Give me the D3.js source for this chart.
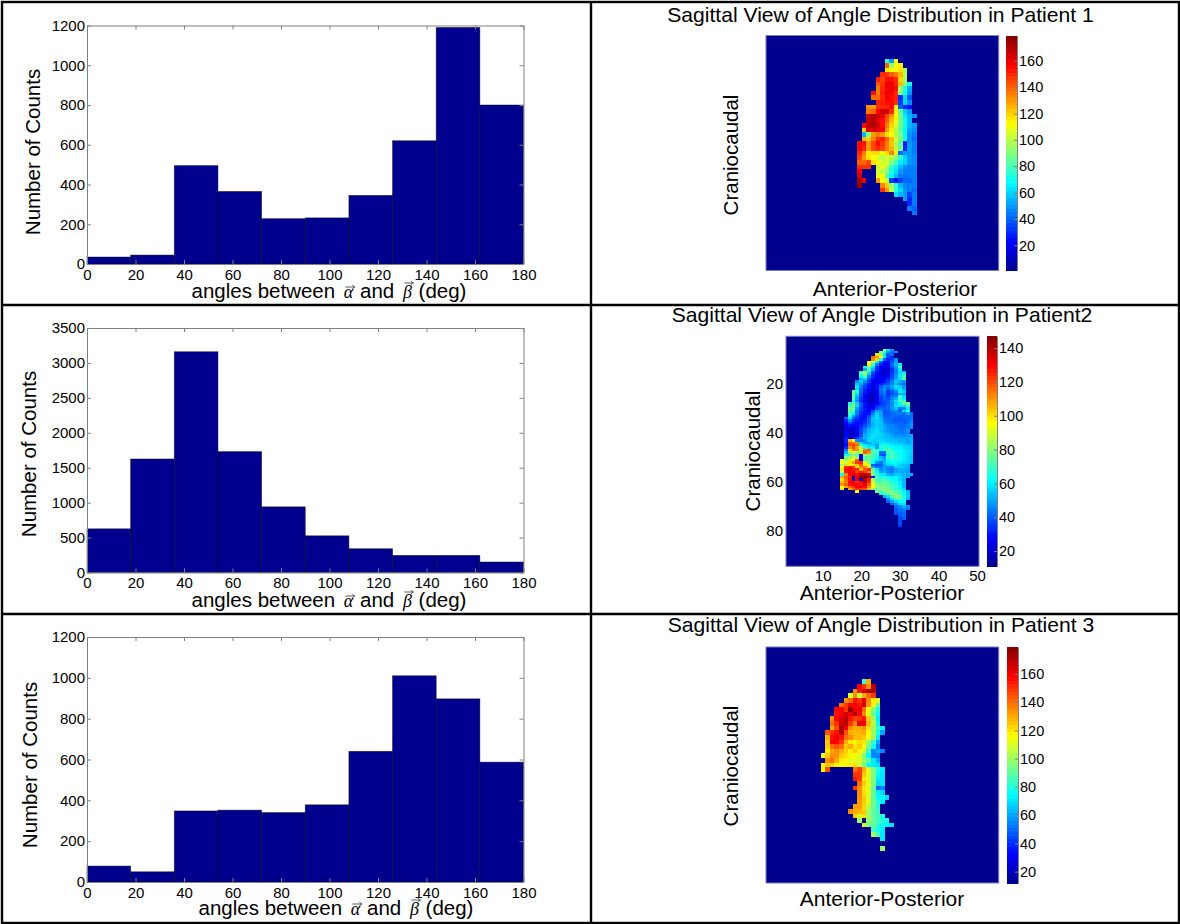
<!DOCTYPE html>
<html>
<head>
  <meta charset="utf-8">
  <style>
body { margin: 0; background: #fff; }
svg { display: block; font-family: "Liberation Sans", sans-serif; }
.axis path, .axis line { stroke: #808080; }
.axis text { fill: #000; font-size: 15px; }
.cbar text { font-size: 14.5px; }
  </style>
</head>
<body>
<svg id="chart" width="1180" height="924"></svg>
<script src="https://cdn.jsdelivr.net/npm/d3@7"></script>
<script>
// Histogram bin edges and counts
var binEdges = [0, 18, 36, 54, 72, 90, 108, 126, 144, 162, 180];
var countsPatient1 = [35, 45, 495, 365, 228, 232, 345, 620, 1190, 800];
var countsPatient2 = [625, 1625, 3160, 1730, 940, 525, 340, 245, 245, 150];
var countsPatient3 = [78, 50, 348, 352, 340, 378, 640, 1010, 897, 587];
var angleTicks = [0, 20, 40, 60, 80, 100, 120, 140, 160, 180];
var countTicks1200 = [0, 200, 400, 600, 800, 1000, 1200];
var countTicks3500 = [0, 500, 1000, 1500, 2000, 2500, 3000, 3500];

// Heat map rows: [row, first column, cell values...]; 0 is outside the lung
var heatPatient1 = [
  [5, 26, 75, 50, 110],
  [6, 26, 140, 95, 112, 115],
  [7, 26, 115, 112, 110, 118, 95],
  [8, 25, 150, 148, 140, 135, 125, 100],
  [9, 24, 152, 145, 155, 155, 150, 120, 95],
  [10, 24, 140, 148, 160, 160, 150, 125, 90, 70],
  [11, 24, 135, 150, 158, 160, 155, 95, 72, 52],
  [12, 23, 155, 135, 152, 160, 158, 150, 90, 68, 50],
  [13, 23, 138, 138, 150, 158, 155, 150, 30, 62, 38],
  [14, 24, 150, 152, 155, 155, 150, 35, 60, 48],
  [15, 22, 132, 130, 148, 150, 150, 155, 112, 40, 30, 25],
  [16, 22, 135, 140, 158, 165, 165, 150, 115, 85, 60, 50],
  [17, 22, 165, 170, 165, 160, 145, 130, 112, 90, 65, 55, 48],
  [18, 22, 168, 170, 160, 155, 140, 125, 108, 90, 68, 55],
  [19, 21, 155, 168, 170, 165, 155, 135, 120, 105, 88, 70, 55, 50],
  [20, 21, 120, 162, 162, 160, 158, 130, 115, 100, 85, 68, 52, 48],
  [21, 21, 55, 90, 130, 135, 130, 118, 112, 100, 88, 68, 48, 45],
  [22, 21, 125, 120, 135, 150, 152, 140, 125, 105, 90, 70, 48, 42],
  [23, 20, 155, 155, 130, 145, 155, 148, 135, 122, 98, 85, 28, 50, 45],
  [24, 20, 155, 150, 130, 145, 150, 145, 135, 125, 100, 88, 30, 50, 45],
  [25, 20, 150, 135, 115, 118, 118, 112, 118, 135, 115, 42, 50, 50, 45],
  [26, 20, 145, 130, 118, 112, 105, 100, 105, 100, 90, 75, 60, 50, 48],
  [27, 20, 140, 138, 145, 118, 110, 105, 105, 90, 80, 65, 60, 50, 48],
  [28, 20, 150, 148, 148, 0, 105, 108, 100, 75, 65, 55, 48, 45, 45],
  [29, 20, 158, 0, 0, 0, 105, 100, 90, 72, 62, 50, 45, 45, 45],
  [30, 20, 165, 0, 0, 0, 108, 112, 82, 68, 55, 45, 42, 45, 45],
  [31, 20, 172, 160, 0, 0, 130, 112, 100, 35, 25, 35, 42, 42, 45],
  [32, 20, 175, 0, 0, 0, 0, 135, 122, 95, 75, 55, 48, 45, 45],
  [33, 25, 148, 130, 100, 75, 62, 50, 45, 42],
  [34, 28, 62, 55, 50, 35, 45],
  [35, 30, 52, 30, 45],
  [36, 31, 30, 45],
  [37, 31, 45, 40],
  [38, 32, 45]
];

var heatPatient2 = [
  [5, 25, 80, 58, 48],
  [6, 24, 78, 70, 48, 42, 46],
  [7, 23, 100, 85, 58, 40, 42],
  [8, 22, 115, 110, 92, 60, 38, 34],
  [9, 22, 112, 100, 68, 40, 32, 36, 46],
  [10, 21, 96, 88, 60, 40, 29, 28, 40, 50],
  [11, 21, 92, 68, 44, 32, 26, 28, 42, 52, 60],
  [12, 20, 62, 80, 58, 36, 28, 22, 25, 38, 48, 70],
  [13, 20, 52, 75, 52, 34, 26, 20, 22, 34, 46, 60],
  [14, 19, 70, 85, 60, 40, 30, 22, 20, 22, 34, 44, 56, 55],
  [15, 19, 72, 82, 55, 36, 28, 24, 20, 24, 36, 46, 58, 66],
  [16, 19, 62, 72, 46, 34, 27, 26, 22, 28, 38, 48, 60, 72],
  [17, 19, 50, 56, 40, 30, 27, 28, 26, 32, 40, 50, 58, 75],
  [18, 18, 46, 56, 48, 36, 27, 25, 28, 30, 36, 44, 56, 52, 48],
  [19, 18, 54, 50, 40, 32, 25, 28, 32, 36, 40, 46, 52, 44, 42],
  [20, 18, 60, 46, 36, 30, 24, 30, 40, 46, 44, 50, 58, 56, 48],
  [21, 18, 58, 42, 34, 28, 22, 30, 44, 48, 40, 46, 56, 58, 50],
  [22, 17, 75, 66, 42, 32, 24, 21, 28, 42, 46, 36, 40, 46, 60, 56],
  [23, 17, 80, 58, 40, 29, 22, 19, 26, 40, 44, 34, 38, 42, 50, 48],
  [24, 17, 78, 54, 38, 28, 20, 18, 24, 38, 42, 36, 42, 44, 66, 58],
  [25, 17, 70, 50, 36, 26, 19, 18, 24, 36, 40, 38, 46, 52, 70, 60],
  [26, 17, 62, 46, 34, 25, 20, 20, 28, 36, 38, 40, 48, 58, 72, 72],
  [27, 16, 66, 78, 56, 40, 30, 22, 20, 26, 34, 38, 40, 46, 56, 64, 75, 78],
  [28, 16, 72, 80, 58, 40, 30, 24, 26, 34, 38, 38, 42, 46, 60, 60, 58, 70],
  [29, 16, 78, 76, 50, 38, 30, 24, 28, 38, 42, 40, 42, 48, 54, 44, 46, 60],
  [30, 16, 75, 70, 46, 36, 30, 28, 38, 50, 48, 38, 40, 44, 46, 42, 58, 66],
  [31, 16, 70, 62, 44, 34, 30, 30, 44, 56, 50, 38, 40, 42, 44, 44, 42, 50, 42],
  [32, 16, 66, 50, 40, 32, 30, 36, 50, 58, 50, 40, 40, 42, 42, 40, 42, 42, 42],
  [33, 15, 40, 60, 42, 36, 30, 30, 40, 54, 58, 52, 42, 42, 42, 40, 40, 40, 42, 44],
  [34, 15, 32, 48, 36, 32, 30, 32, 42, 54, 56, 52, 44, 42, 42, 40, 40, 40, 42, 44],
  [35, 15, 28, 38, 32, 30, 30, 36, 42, 52, 56, 54, 48, 44, 42, 42, 42, 40, 42, 48],
  [36, 15, 26, 30, 28, 30, 32, 38, 44, 52, 56, 54, 50, 46, 46, 44, 42, 42, 44, 48],
  [37, 15, 24, 24, 22, 28, 36, 42, 50, 54, 56, 54, 52, 48, 46, 44, 42, 42, 44, 46],
  [38, 15, 24, 21, 19, 26, 36, 46, 52, 56, 58, 54, 50, 48, 46, 46, 44, 44, 48],
  [39, 15, 26, 20, 18, 24, 36, 48, 54, 56, 58, 56, 52, 50, 48, 46, 44, 44, 46],
  [40, 15, 28, 20, 18, 26, 38, 50, 54, 58, 58, 56, 54, 52, 50, 48, 48, 46, 48, 50],
  [41, 15, 32, 22, 26, 34, 44, 52, 56, 58, 56, 56, 54, 54, 52, 50, 50, 50, 50, 52],
  [42, 15, 32, 105, 95, 48, 44, 48, 58, 56, 56, 58, 56, 54, 54, 54, 52, 52, 50, 52],
  [43, 15, 30, 118, 115, 112, 58, 50, 50, 56, 54, 58, 60, 58, 56, 56, 54, 52, 50, 52],
  [44, 15, 28, 118, 122, 116, 70, 60, 55, 54, 50, 62, 66, 62, 60, 58, 58, 56, 54, 54],
  [45, 15, 34, 112, 120, 108, 85, 65, 60, 62, 50, 66, 70, 66, 62, 60, 60, 58, 56, 54],
  [46, 15, 45, 100, 112, 110, 92, 115, 118, 72, 70, 62, 72, 74, 68, 62, 62, 60, 58, 56],
  [47, 15, 52, 85, 90, 82, 88, 118, 110, 72, 68, 42, 44, 70, 72, 66, 62, 60, 58, 56],
  [48, 15, 62, 72, 80, 75, 25, 85, 78, 70, 66, 40, 38, 66, 70, 66, 62, 60, 58, 54],
  [49, 15, 78, 82, 88, 80, 22, 70, 78, 70, 62, 52, 48, 70, 72, 68, 64, 60, 56, 54],
  [50, 14, 90, 84, 92, 96, 118, 22, 72, 74, 66, 60, 55, 50, 62, 66, 66, 62, 60, 58, 54],
  [51, 14, 95, 90, 100, 108, 122, 125, 95, 80, 62, 48, 44, 52, 60, 62, 62, 60, 58, 56, 54],
  [52, 14, 82, 100, 96, 100, 104, 118, 98, 88, 40, 38, 42, 50, 56, 58, 60, 56, 54, 52],
  [53, 14, 96, 125, 128, 122, 100, 112, 112, 100, 50, 42, 44, 50, 48, 46, 56, 56, 54, 52],
  [54, 14, 100, 128, 130, 128, 125, 105, 118, 125, 75, 60, 46, 50, 46, 44, 50, 52, 52, 50],
  [55, 14, 90, 128, 132, 130, 120, 128, 122, 112, 80, 62, 50, 52, 46, 44, 50, 52, 50, 50],
  [56, 14, 62, 112, 130, 134, 130, 138, 142, 135, 78, 70, 60, 60, 52, 50, 55, 55, 52, 50, 52],
  [57, 14, 108, 118, 126, 22, 132, 142, 146, 145, 30, 72, 66, 66, 62, 60, 62, 58, 52, 50],
  [58, 14, 100, 116, 128, 22, 132, 20, 140, 128, 85, 70, 68, 72, 68, 62, 62, 56, 52],
  [59, 14, 105, 112, 130, 130, 124, 130, 142, 125, 92, 72, 72, 76, 72, 68, 64, 60, 54],
  [60, 14, 110, 118, 128, 132, 130, 128, 132, 118, 95, 80, 76, 78, 74, 70, 66, 60, 52],
  [61, 14, 96, 108, 118, 124, 130, 132, 128, 112, 96, 82, 78, 80, 76, 72, 68, 62, 52],
  [62, 14, 100, 0, 108, 116, 125, 122, 120, 105, 82, 74, 78, 82, 78, 72, 68, 62, 55],
  [63, 18, 96, 0, 0, 0, 0, 78, 74, 76, 80, 76, 72, 70, 62, 52],
  [64, 24, 62, 70, 76, 82, 80, 70, 62, 54],
  [65, 25, 52, 58, 72, 80, 78, 66, 55],
  [66, 26, 45, 60, 70, 72, 62, 52],
  [67, 26, 42, 48, 58, 62, 64],
  [68, 27, 42, 48, 58, 58],
  [69, 28, 42, 46, 52, 46],
  [70, 28, 40, 44, 46, 42],
  [71, 28, 40, 42, 44],
  [72, 28, 38, 40, 42],
  [73, 29, 40, 42],
  [74, 29, 38, 40],
  [75, 29, 38],
  [76, 29, 38],
  [77, 29, 36]
];

var heatPatient3 = [
  [7, 21, 85, 130],
  [8, 20, 160, 150, 135, 170],
  [9, 19, 135, 155, 165, 170, 172],
  [10, 18, 112, 135, 105, 130, 140, 150],
  [11, 17, 135, 140, 155, 150, 162, 135, 118, 112],
  [12, 16, 140, 150, 158, 160, 155, 165, 135, 118, 92],
  [13, 15, 158, 158, 150, 175, 160, 160, 140, 115, 95, 80],
  [14, 15, 155, 160, 165, 160, 170, 158, 135, 112, 90, 75],
  [15, 14, 135, 158, 165, 170, 155, 148, 150, 155, 125, 100, 72],
  [16, 14, 140, 150, 165, 170, 150, 135, 160, 162, 128, 105, 75],
  [17, 14, 130, 145, 172, 160, 135, 130, 130, 135, 122, 100, 85, 72],
  [18, 13, 145, 150, 155, 170, 145, 130, 128, 128, 130, 118, 100, 78, 60],
  [19, 13, 130, 155, 160, 155, 140, 135, 128, 128, 125, 115, 100, 72],
  [20, 13, 125, 160, 158, 150, 130, 120, 118, 122, 120, 100, 82, 60],
  [21, 13, 125, 140, 145, 140, 125, 130, 120, 125, 115, 95, 75, 55],
  [22, 13, 120, 130, 135, 130, 125, 118, 125, 118, 110, 85, 55, 60, 55],
  [23, 12, 112, 125, 135, 135, 125, 122, 118, 115, 112, 95, 75, 55, 55],
  [24, 13, 135, 140, 130, 120, 118, 112, 112, 110, 100, 90, 72, 60],
  [25, 12, 118, 125, 125, 118, 115, 118, 120, 122, 105, 95, 75, 72, 70],
  [26, 12, 118, 145, 0, 0, 0, 0, 0, 140, 148, 130, 112, 95, 78, 72],
  [27, 19, 150, 150, 125, 112, 95, 75, 70],
  [28, 19, 155, 148, 120, 112, 95, 72, 70],
  [29, 20, 140, 125, 112, 95, 68, 70],
  [30, 19, 150, 135, 120, 112, 92, 50, 55],
  [31, 20, 135, 122, 112, 90, 72, 68],
  [32, 20, 135, 125, 110, 90, 75, 75, 68],
  [33, 20, 132, 125, 112, 92, 80, 72],
  [34, 19, 132, 132, 122, 105, 92, 80],
  [35, 18, 135, 130, 128, 125, 100, 90, 85],
  [36, 19, 125, 110, 122, 100, 90, 85, 80],
  [37, 20, 100, 0, 100, 92, 85, 80, 78],
  [38, 21, 108, 95, 90, 82, 78, 72, 70],
  [39, 23, 85, 78, 72],
  [40, 23, 100, 85, 70],
  [41, 25, 72],
  [43, 25, 100]
];

var heatTicks = [20, 40, 60, 80, 100, 120, 140, 160];
var heatTicks2 = [20, 40, 60, 80, 100, 120, 140];
var apTicks = [10, 20, 30, 40, 50];
var ccTicks = [20, 40, 60, 80];

// Jet colormap
var jetStops = [0, 0.125, 0.375, 0.625, 0.875, 1];
var jetColors = ["#00008f", "#0000ff", "#00ffff", "#ffff00", "#ff0000", "#800000"];
var jet = d3.scaleLinear().domain(jetStops).range(jetColors).clamp(true);

var svg = d3.select("#chart");

// Table lines around the six panels
var frame = svg.append("g").attr("stroke", "#000").attr("stroke-width", 2.4);
frame.append("rect").attr("x", 2).attr("y", 2).attr("width", 1177).attr("height", 921).attr("fill", "none");
frame.append("line").attr("x1", 591).attr("x2", 591).attr("y1", 2).attr("y2", 923);
frame.append("line").attr("x1", 2).attr("x2", 1179).attr("y1", 305).attr("y2", 305);
frame.append("line").attr("x1", 2).attr("x2", 1179).attr("y1", 614).attr("y2", 614);

// Small vector arrow above a letter of the x label
function drawVectorArrow(g, label, index, rise) {
  var node = label.node();
  var start = node.getStartPositionOfChar(index);
  var end = node.getEndPositionOfChar(index);
  var y = start.y - rise;
  g.append("path")
    .attr("d", "M" + (start.x + 1.5) + "," + y + "H" + (end.x + 1.5) +
      "m-2.5,-1.8l2.5,1.8l-2.5,1.8")
    .attr("fill", "none")
    .attr("stroke", "#333")
    .attr("stroke-width", 0.8);
}

function drawHist(counts, yMax, yTicks, box) {
  var x = d3.scaleLinear().domain([0, 180]).range([87, 523.5]);
  var y = d3.scaleLinear().domain([0, yMax]).range([box.bottom, box.top]);
  var g = svg.append("g");

  g.selectAll("rect")
    .data(counts)
    .enter().append("rect")
      .attr("x", function(d, i) { return x(binEdges[i]); })
      .attr("y", function(d) { return y(d); })
      .attr("width", function(d, i) { return x(binEdges[i + 1]) - x(binEdges[i]); })
      .attr("height", function(d) { return y(0) - y(d); })
      .attr("fill", "#00008f")
      .attr("stroke", "#000")
      .attr("stroke-opacity", 0.55)
      .attr("stroke-width", 0.8);

  g.append("g").attr("class", "axis")
    .attr("transform", "translate(0," + box.bottom + ")")
    .call(d3.axisBottom(x).tickValues(angleTicks).tickFormat(d3.format("d")).tickSizeInner(-4).tickSizeOuter(0).tickPadding(5));
  g.append("g").attr("class", "axis")
    .attr("transform", "translate(87,0)")
    .call(d3.axisLeft(y).tickValues(yTicks).tickFormat(d3.format("d")).tickSizeInner(-4).tickSizeOuter(0).tickPadding(2));
  g.append("g").attr("class", "axis")
    .attr("transform", "translate(0," + box.top + ")")
    .call(d3.axisTop(x).tickValues(angleTicks).tickFormat("").tickSizeInner(-4).tickSizeOuter(0));
  g.append("g").attr("class", "axis")
    .attr("transform", "translate(523.5,0)")
    .call(d3.axisRight(y).tickValues(yTicks).tickFormat("").tickSizeInner(-4).tickSizeOuter(0));

  g.append("text")
    .attr("transform", "translate(" + box.yLabelX + "," + box.yLabelY + ") rotate(-90)")
    .attr("text-anchor", "middle")
    .attr("font-size", 20.5)
    .text("Number of Counts");

  var label = g.append("text")
    .attr("x", box.xLabelX)
    .attr("y", box.xLabelBase)
    .attr("text-anchor", "middle")
    .attr("font-size", 20.5);
  label.append("tspan").text("angles between ");
  label.append("tspan").attr("dx", 3).attr("font-family", "Liberation Serif").attr("font-style", "italic").attr("font-size", 18).text("\u03b1");
  label.append("tspan").attr("dx", 1).text(" and ");
  label.append("tspan").attr("dx", 3).attr("font-family", "Liberation Serif").attr("font-style", "italic").attr("font-size", 18).text("\u03b2");
  label.append("tspan").attr("dx", 1).text(" (deg)");
  drawVectorArrow(g, label, 15, 11);
  drawVectorArrow(g, label, 21, 15);
}

function drawHeat(rows, domain, ticks, box) {
  var x = d3.scaleLinear().domain([0.5, box.cols + 0.5]).range([box.x0, box.x1]);
  var y = d3.scaleLinear().domain([0.5, box.rows + 0.5]).range([box.y0, box.y1]);
  var color = function(v) { return jet((v - domain[0]) / (domain[1] - domain[0])); };
  var g = svg.append("g");

  g.append("rect")
    .attr("x", box.x0).attr("y", box.y0)
    .attr("width", box.x1 - box.x0).attr("height", box.y1 - box.y0)
    .attr("fill", "#00008f")
    .attr("stroke", "#7d7db8");

  var cells = [];
  rows.forEach(function(r) {
    r.slice(2).forEach(function(v, i) {
      if (v > 0) cells.push({row: r[0], col: r[1] + i, value: v});
    });
  });

  g.selectAll(".cell")
    .data(cells)
    .enter().append("rect")
      .attr("class", "cell")
      .attr("shape-rendering", "crispEdges")
      .attr("x", function(d) { return x(d.col + 0.5); })
      .attr("y", function(d) { return y(d.row + 0.5); })
      .attr("width", x(1.5) - x(0.5))
      .attr("height", y(1.5) - y(0.5))
      .attr("fill", function(d) { return color(d.value); });

  if (box.showTicks) {
    g.append("g").attr("class", "axis")
      .attr("transform", "translate(0," + box.y1 + ")")
      .call(d3.axisBottom(x).tickValues(apTicks).tickSizeInner(0).tickSizeOuter(0).tickPadding(4))
      .call(function(a) { a.select("path").remove(); });
    g.append("g").attr("class", "axis")
      .attr("transform", "translate(" + box.x0 + ",0)")
      .call(d3.axisLeft(y).tickValues(ccTicks).tickSizeInner(0).tickSizeOuter(0).tickPadding(3))
      .call(function(a) { a.select("path").remove(); });
  }

  // colour bar
  var c = d3.scaleLinear().domain(domain).range([box.y1, box.y0]);
  var levels = d3.range(64);
  var bar = g.append("g");
  bar.selectAll("rect")
    .data(levels)
    .enter().append("rect")
      .attr("shape-rendering", "crispEdges")
      .attr("x", box.barX)
      .attr("y", function(d) { return box.y1 - (d + 1) * (box.y1 - box.y0) / 64; })
      .attr("width", box.barW)
      .attr("height", (box.y1 - box.y0) / 64 + 0.5)
      .attr("fill", function(d) { return jet((d + 0.5) / 64); });
  g.append("g").attr("class", "axis cbar")
    .attr("transform", "translate(" + (box.barX + box.barW) + ",0)")
    .call(d3.axisRight(c).tickValues(ticks).tickSizeInner(-3).tickSizeOuter(0).tickPadding(2));

  g.append("text")
    .attr("x", box.titleX)
    .attr("y", box.titleBase)
    .attr("text-anchor", "middle")
    .attr("font-size", 21.1)
    .text(box.title);
  g.append("text")
    .attr("x", box.xLabelX)
    .attr("y", box.xLabelBase)
    .attr("text-anchor", "middle")
    .attr("font-size", 21)
    .text("Anterior-Posterior");
  g.append("text")
    .attr("transform", "translate(" + box.yLabelX + "," + box.yLabelY + ") rotate(-90)")
    .attr("text-anchor", "middle")
    .attr("font-size", 20.5)
    .text("Craniocaudal");
}

drawHist(countsPatient1, 1200, countTicks1200, {top: 25.5, bottom: 264, yLabelX: 40, yLabelY: 152, xLabelX: 329, xLabelBase: 298});
drawHist(countsPatient2, 3500, countTicks3500, {top: 328, bottom: 572.5, yLabelX: 36, yLabelY: 454, xLabelX: 329, xLabelBase: 607});
drawHist(countsPatient3, 1200, countTicks1200, {top: 637, bottom: 882, yLabelX: 37, yLabelY: 765, xLabelX: 336, xLabelBase: 915});

drawHeat(heatPatient1, [1, 179], heatTicks, {
  cols: 51, rows: 51, x0: 766, x1: 998.7, y0: 35.5, y1: 270.5, barX: 1006, barW: 11,
  title: "Sagittal View of Angle Distribution in Patient 1", titleX: 880.5, titleBase: 22,
  xLabelX: 895, xLabelBase: 296, yLabelX: 738, yLabelY: 155
});
drawHeat(heatPatient2, [11, 147], heatTicks2, {
  cols: 50, rows: 94, x0: 786, x1: 979, y0: 336.3, y1: 566.3, barX: 987, barW: 10, showTicks: true,
  title: "Sagittal View of Angle Distribution in Patient2", titleX: 882, titleBase: 322,
  xLabelX: 882, xLabelBase: 600, yLabelX: 760, yLabelY: 451
});
drawHeat(heatPatient3, [12, 179], heatTicks, {
  cols: 51, rows: 51, x0: 766, x1: 998.7, y0: 647, y1: 883, barX: 1007, barW: 11,
  title: "Sagittal View of Angle Distribution in Patient 3", titleX: 881, titleBase: 632,
  xLabelX: 882, xLabelBase: 906, yLabelX: 738, yLabelY: 766
});
</script>
</body>
</html>
